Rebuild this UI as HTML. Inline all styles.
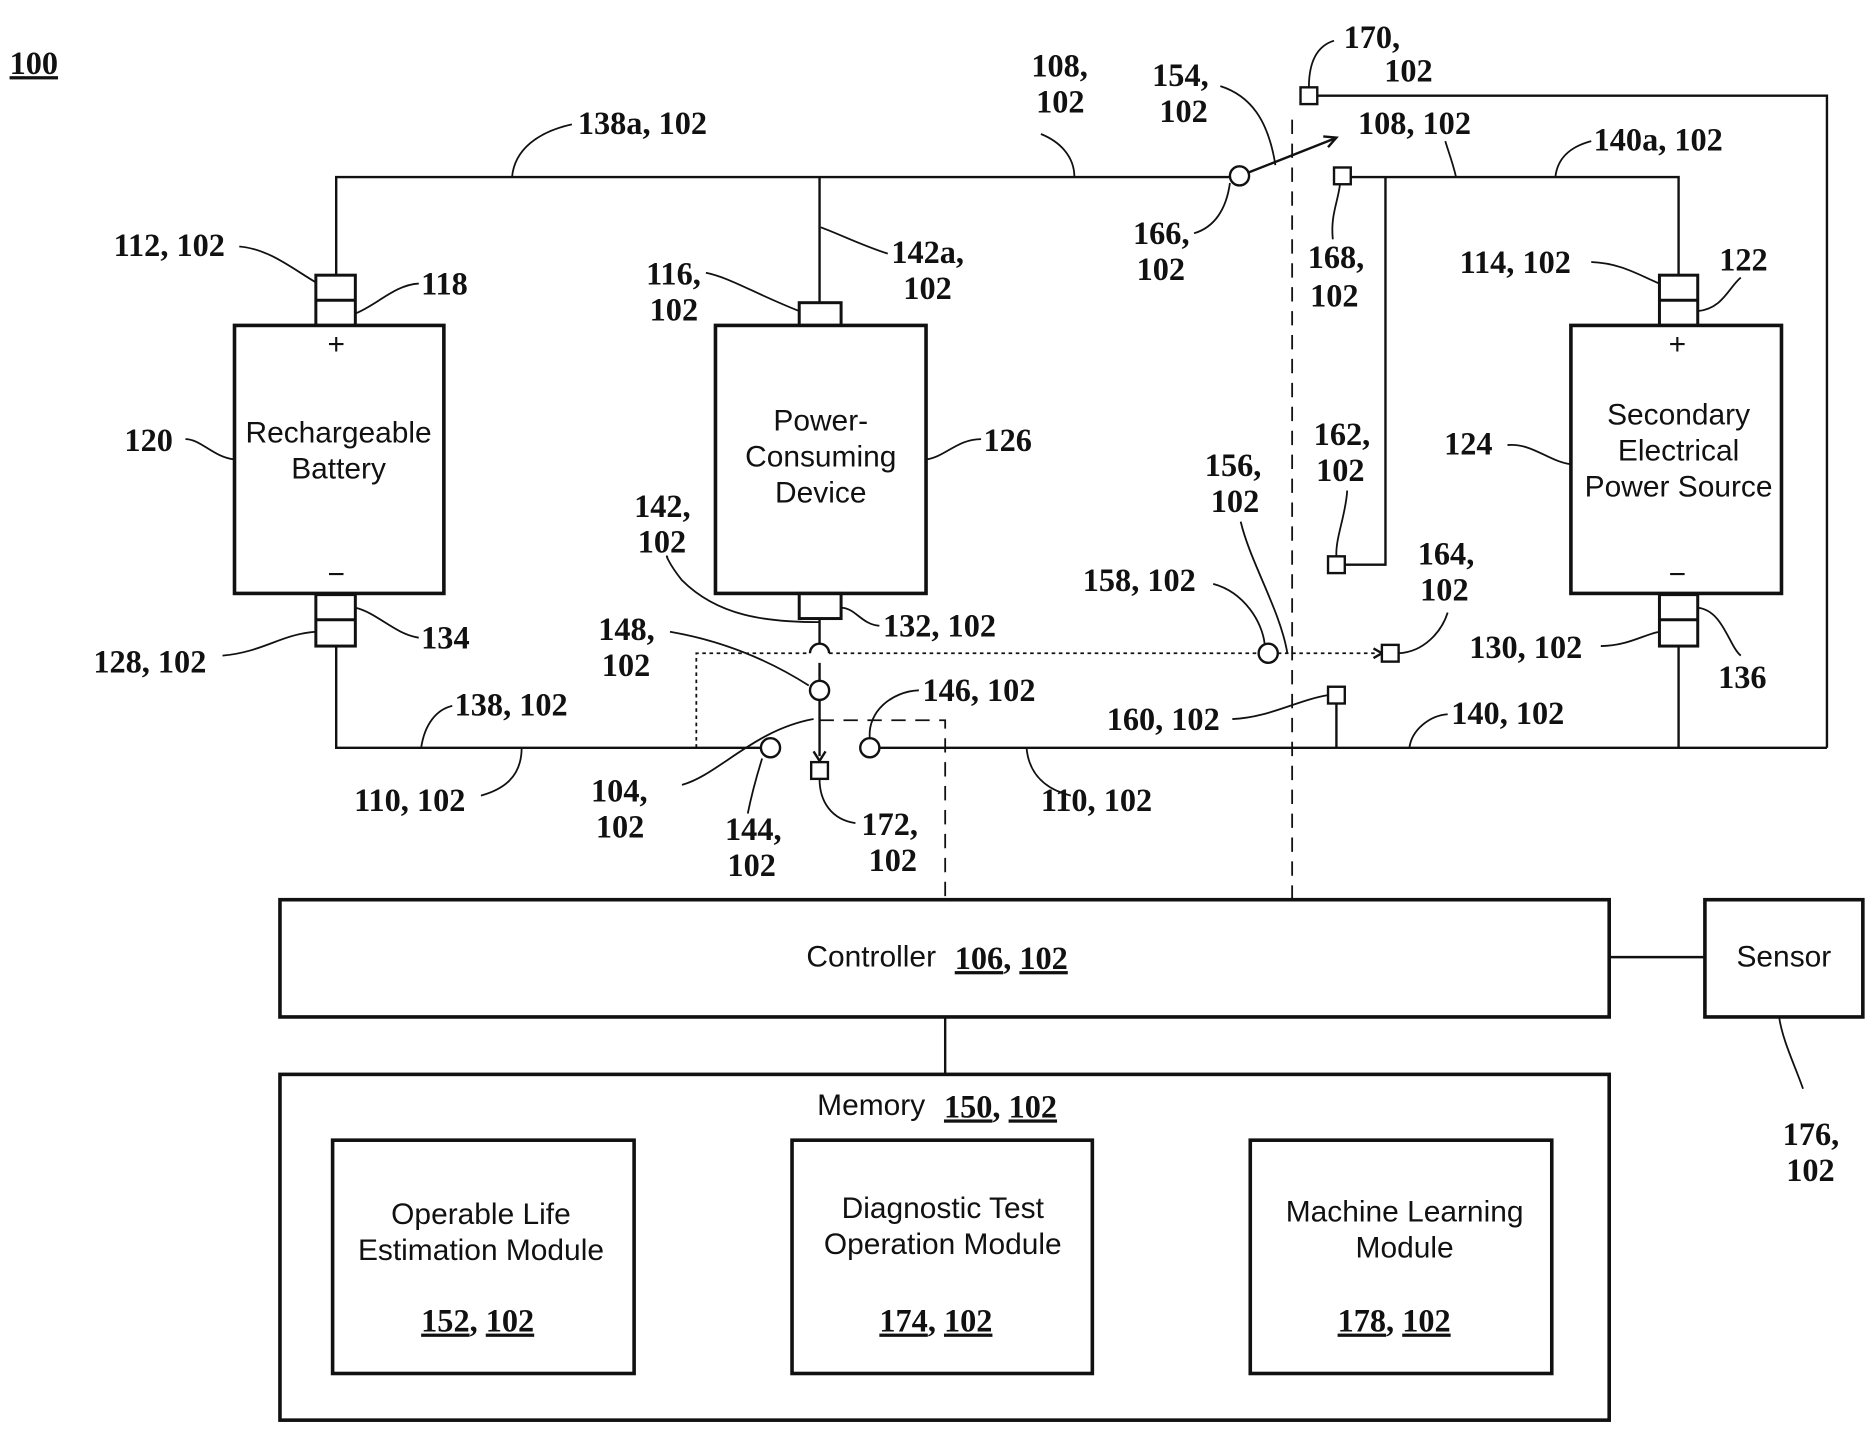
<!DOCTYPE html>
<html><head><meta charset="utf-8"><style>
html,body{margin:0;padding:0;background:#fff}
svg{display:block}
.l{font-family:"Liberation Serif",serif;font-weight:bold;font-size:27px;fill:#111}
.s{font-family:"Liberation Sans",sans-serif;font-size:25px;fill:#111}
.u{text-decoration:underline}
</style></head><body>
<svg width="1876" height="1429" viewBox="0 0 1568 1194.4" preserveAspectRatio="none" xmlns="http://www.w3.org/2000/svg">
<g fill="none" stroke="#111" stroke-width="2">
<path d="M281 230 V148 H1028"/>
<path d="M685 148 V253"/>
<circle cx="1036" cy="147" r="8" fill="#fff"/>
<path d="M1044 144 L1115 116"/>
<path d="M1106 114 L1117 115 L1110 123" />
<path d="M1129 148 H1403 V230"/>
<path d="M1158 148 V472 H1124"/>
<rect x="1115" y="140" width="14" height="14" fill="#fff"/>
<rect x="1110" y="465" width="14" height="14" fill="#fff"/>
<rect x="1087" y="73" width="14" height="14" fill="#fff"/>
<path d="M1101 80 H1527 V625"/>
<rect x="196" y="272" width="175" height="224" stroke-width="3"/>
<rect x="264" y="230" width="33" height="42" stroke-width="2.5"/><path d="M264 251 H297" stroke-width="2.5"/>
<rect x="264" y="497" width="33" height="43" stroke-width="2.5"/><path d="M264 518 H297" stroke-width="2.5"/>
<path d="M281 540 V625 H637"/>
<rect x="598" y="272" width="176" height="224" stroke-width="3"/>
<rect x="668" y="253" width="35" height="19" stroke-width="2.5"/>
<rect x="668" y="496" width="35" height="21" stroke-width="2.5"/>
<path d="M685 517 V538 M685 554 V569"/>
<path d="M677 546 A8 8 0 0 1 693 546"/>
<circle cx="685" cy="577" r="8" fill="#fff"/>
<path d="M685 585 V632"/>
<path d="M680 628 L685 636 L690 628"/>
<rect x="678" y="637" width="14" height="14" fill="#fff"/>
<circle cx="644" cy="625" r="8" fill="#fff"/>
<circle cx="727" cy="625" r="8" fill="#fff"/>
<path d="M735 625 H1527"/>
<rect x="1313" y="272" width="176" height="224" stroke-width="3"/>
<rect x="1387" y="230" width="32" height="42" stroke-width="2.5"/><path d="M1387 251 H1419" stroke-width="2.5"/>
<rect x="1387" y="497" width="32" height="43" stroke-width="2.5"/><path d="M1387 518 H1419" stroke-width="2.5"/>
<path d="M1403 540 V625"/>
<path d="M582 625 V546 H677 M693 546 H1052 M1068 546 H1150" stroke-width="1.5" stroke-dasharray="3,3"/>
<circle cx="1060" cy="546" r="8" fill="#fff"/>
<path d="M1148 542 L1155 546 L1148 550" stroke-width="2"/>
<rect x="1155" y="539" width="14" height="14" fill="#fff"/>
<rect x="1110" y="574" width="14" height="14" fill="#fff"/>
<path d="M1117 588 V625"/>
<path d="M685 602 H790 V752" stroke-width="1.5" stroke-dasharray="12,8"/>
<path d="M1080 100 V752" stroke-width="1.5" stroke-dasharray="12,8"/>
<rect x="234" y="752" width="1111" height="98" stroke-width="3"/>
<rect x="1425" y="752" width="132" height="98" stroke-width="3"/>
<path d="M1345 800 H1425 M790 850 V898"/>
<rect x="234" y="898" width="1111" height="289" stroke-width="3"/>
<rect x="278" y="953" width="252" height="195" stroke-width="3"/>
<rect x="662" y="953" width="251" height="195" stroke-width="3"/>
<rect x="1045" y="953" width="252" height="195" stroke-width="3"/>
<g stroke-width="1.5">
<path d="M428 148 C430 125 450 110 478 104"/>
<path d="M898 148 C898 130 885 118 870 112"/>
<path d="M1066 138 C1060 100 1045 80 1020 72"/>
<path d="M1028 153 C1025 175 1015 190 998 195"/>
<path d="M1217 148 C1214 135 1210 125 1208 118"/>
<path d="M1300 148 C1302 130 1315 122 1330 118"/>
<path d="M1120 154 C1118 170 1112 180 1114 200"/>
<path d="M1094 73 C1094 50 1102 38 1115 34"/>
<path d="M200 206 C225 208 245 225 264 236"/>
<path d="M297 262 C315 255 330 238 350 237"/>
<path d="M742 212 C720 205 700 195 686 190"/>
<path d="M590 228 C610 232 630 245 668 260"/>
<path d="M155 367 C168 367 178 382 196 384"/>
<path d="M774 384 C790 382 800 367 820 367"/>
<path d="M1260 372 C1280 370 1295 386 1313 388"/>
<path d="M297 508 C315 512 330 530 350 533"/>
<path d="M186 548 C220 545 235 530 264 528"/>
<path d="M703 508 C715 508 720 522 735 523"/>
<path d="M685 520 C640 520 600 515 570 485 C558 470 556 462 558 466"/>
<path d="M560 528 C600 535 640 550 676 573"/>
<path d="M352 625 C355 605 365 593 378 590"/>
<path d="M436 625 C436 650 420 660 402 665"/>
<path d="M570 656 C600 648 630 610 680 601"/>
<path d="M637 634 C632 650 628 665 625 680"/>
<path d="M685 651 C685 670 695 685 715 688"/>
<path d="M727 617 C725 595 745 578 768 577"/>
<path d="M858 625 C860 648 875 660 895 665"/>
<path d="M1178 625 C1180 610 1195 598 1210 597"/>
<path d="M1030 601 C1060 600 1085 585 1110 581"/>
<path d="M1014 488 C1040 495 1055 520 1057 538"/>
<path d="M1037 436 C1045 470 1070 510 1076 546"/>
<path d="M1117 465 C1116 450 1125 430 1126 410"/>
<path d="M1169 546 C1190 545 1205 528 1210 512"/>
<path d="M1338 540 C1360 540 1375 530 1387 528"/>
<path d="M1419 508 C1440 510 1445 540 1455 548"/>
<path d="M1419 260 C1440 258 1445 240 1455 232"/>
<path d="M1330 219 C1355 220 1370 230 1387 237"/>
<path d="M1487 850 C1490 870 1500 890 1507 910"/>
</g>
</g>
<g class="l">
<text x="8" y="62" class="u">100</text>
<text x="483" y="112">138a, 102</text>
<text x="862" y="64">108,</text><text x="866" y="94">102</text>
<text x="963" y="72">154,</text><text x="969" y="102">102</text>
<text x="1123" y="40">170,</text><text x="1157" y="68">102</text>
<text x="1135" y="112">108, 102</text>
<text x="1332" y="126">140a, 102</text>
<text x="947" y="204">166,</text><text x="950" y="234">102</text>
<text x="1093" y="224">168,</text><text x="1095" y="256">102</text>
<text x="95" y="214">112, 102</text>
<text x="352" y="246">118</text>
<text x="540" y="238">116,</text><text x="543" y="268">102</text>
<text x="745" y="220">142a,</text><text x="755" y="250">102</text>
<text x="1220" y="228">114, 102</text>
<text x="1437" y="226">122</text>
<text x="104" y="377">120</text>
<text x="822" y="377">126</text>
<text x="1207" y="380">124</text>
<text x="1098" y="372">162,</text><text x="1100" y="402">102</text>
<text x="1007" y="398">156,</text><text x="1012" y="428">102</text>
<text x="530" y="432">142,</text><text x="533" y="462">102</text>
<text x="905" y="494">158, 102</text>
<text x="1185" y="472">164,</text><text x="1187" y="502">102</text>
<text x="738" y="532">132, 102</text>
<text x="352" y="542">134</text>
<text x="500" y="535">148,</text><text x="503" y="565">102</text>
<text x="78" y="562">128, 102</text>
<text x="1228" y="550">130, 102</text>
<text x="1436" y="575">136</text>
<text x="771" y="586">146, 102</text>
<text x="380" y="598">138, 102</text>
<text x="925" y="610">160, 102</text>
<text x="1213" y="605">140, 102</text>
<text x="296" y="678">110, 102</text>
<text x="870" y="678">110, 102</text>
<text x="494" y="670">104,</text><text x="498" y="700">102</text>
<text x="606" y="702">144,</text><text x="608" y="732">102</text>
<text x="720" y="698">172,</text><text x="726" y="728">102</text>
<text x="1490" y="957">176,</text><text x="1493" y="987">102</text>
</g>
<g class="s" text-anchor="middle">
<text x="281" y="296">+</text><text x="281" y="488">−</text>
<text x="1402" y="296">+</text><text x="1402" y="488">−</text>
<text x="283" y="370">Rechargeable</text><text x="283" y="400">Battery</text>
<text x="686" y="360">Power-</text><text x="686" y="390">Consuming</text><text x="686" y="420">Device</text>
<text x="1403" y="355">Secondary</text><text x="1403" y="385">Electrical</text><text x="1403" y="415">Power Source</text>
<text x="1491" y="808">Sensor</text>
<text x="402" y="1023">Operable Life</text><text x="402" y="1053">Estimation Module</text>
<text x="788" y="1018">Diagnostic Test</text><text x="788" y="1048">Operation Module</text>
<text x="1174" y="1021">Machine Learning</text><text x="1174" y="1051">Module</text>
</g>
<g>
<text x="674" y="808" class="s">Controller</text>
<text x="798" y="810" class="l"><tspan class="u">106</tspan>, <tspan class="u">102</tspan></text>
<text x="683" y="932" class="s">Memory</text>
<text x="789" y="934" class="l"><tspan class="u">150</tspan>, <tspan class="u">102</tspan></text>
<text x="352" y="1113" class="l"><tspan class="u">152</tspan>, <tspan class="u">102</tspan></text>
<text x="735" y="1113" class="l"><tspan class="u">174</tspan>, <tspan class="u">102</tspan></text>
<text x="1118" y="1113" class="l"><tspan class="u">178</tspan>, <tspan class="u">102</tspan></text>
</g>
</svg>
</body></html>
